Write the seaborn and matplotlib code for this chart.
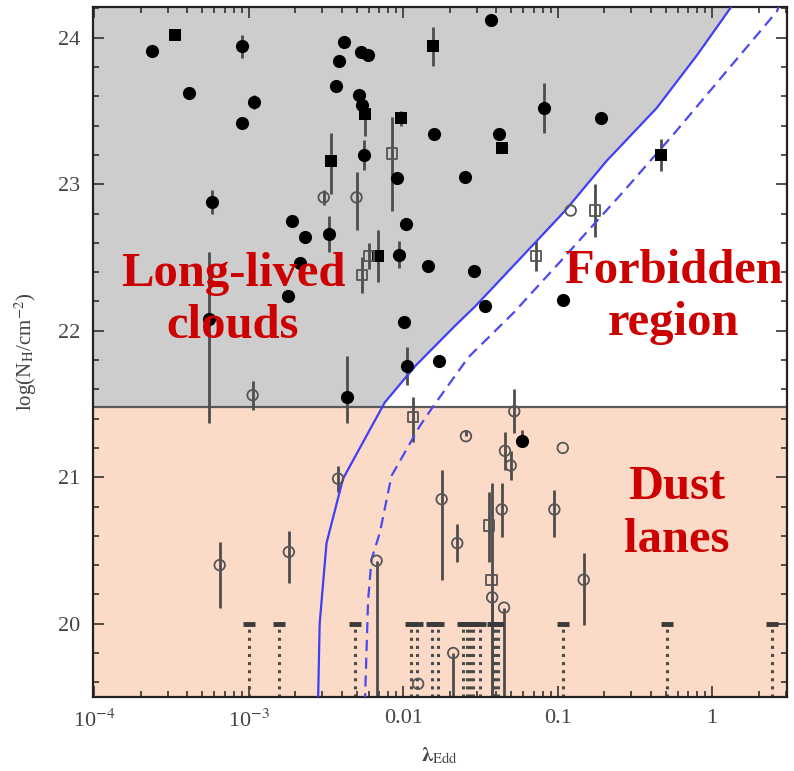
import matplotlib
matplotlib.use('Agg')
import matplotlib.pyplot as plt
from matplotlib.ticker import MultipleLocator, LogLocator, NullFormatter
import numpy as np
import seaborn as sns

# filled circles: lambda_Edd, log NH, error bar low / high
fc_lam = [2.35e-4, 9.0e-4, 4.08e-4, 1.077e-3, 9.0e-4, 5.78e-4, 4.13e-3, 3.85e-3, 5.30e-3,
          5.88e-3, 3.66e-3, 5.16e-3, 5.42e-3, 5.59e-3, 9.06e-3, 0.0370, 0.01573, 0.0415,
          0.082, 0.0250, 0.191, 0.1089, 1.91e-3, 2.31e-3, 3.33e-3, 2.15e-3, 1.80e-3,
          5.56e-4, 0.01041, 9.42e-3, 0.01439, 0.0287, 0.034, 0.0102, 0.01062, 0.01695,
          4.34e-3, 0.0585]
fc_n = [23.91, 23.94, 23.62, 23.56, 23.42, 22.88, 23.97, 23.84, 23.90,
        23.88, 23.67, 23.61, 23.54, 23.20, 23.04, 24.12, 23.34, 23.34,
        23.52, 23.05, 23.45, 22.21, 22.75, 22.64, 22.66, 22.46, 22.24,
        22.08, 22.73, 22.52, 22.44, 22.41, 22.17, 22.06, 21.76, 21.79,
        21.55, 21.25]
fc_lo = [23.91, 23.86, 23.59, 23.51, 23.42, 22.80, 23.97, 23.80, 23.90,
         23.88, 23.67, 23.57, 23.54, 23.10, 23.04, 24.12, 23.32, 23.31,
         23.35, 23.01, 23.42, 22.21, 22.75, 22.61, 22.54, 22.46, 22.24,
         21.37, 22.73, 22.43, 22.44, 22.41, 22.17, 22.03, 21.63, 21.79,
         21.37, 21.25]
fc_hi = [23.91, 24.02, 23.66, 23.61, 23.42, 22.96, 23.97, 23.87, 23.90,
         23.88, 23.67, 23.65, 23.54, 23.30, 23.04, 24.12, 23.36, 23.37,
         23.69, 23.09, 23.47, 22.21, 22.75, 22.67, 22.78, 22.46, 22.24,
         22.54, 22.73, 22.61, 22.44, 22.41, 22.17, 22.08, 21.89, 21.79,
         21.83, 21.32]

# filled squares
fs_lam = [3.33e-4, 5.62e-3, 3.43e-3, 9.7e-3, 0.0155, 0.0437, 0.466, 6.88e-3]
fs_n = [24.02, 23.48, 23.16, 23.45, 23.94, 23.25, 23.20, 22.51]
fs_lo = [24.02, 23.33, 22.93, 23.40, 23.81, 23.22, 23.09, 22.33]
fs_hi = [24.02, 23.52, 23.35, 23.50, 24.07, 23.28, 23.31, 22.69]

# open circles
oc_lam = [3.06e-3, 4.99e-3, 0.1216, 1.06e-3, 0.0524, 3.79e-3, 0.0255, 0.108, 0.0456,
          0.0497, 0.01775, 0.0435, 0.0953, 0.0377, 0.045, 6.73e-3, 0.0224, 0.1476,
          0.0211, 0.0125, 6.49e-4, 1.82e-3]
oc_n = [22.91, 22.91, 22.82, 21.56, 21.45, 20.99, 21.28, 21.20, 21.18,
        21.08, 20.85, 20.78, 20.78, 20.18, 20.11, 20.43, 20.55, 20.30,
        19.80, 19.59, 20.40, 20.49]
oc_lo = [22.86, 22.69, 22.82, 21.46, 21.30, 20.90, 21.28, 21.20, 21.05,
         20.98, 20.30, 20.59, 20.59, 19.45, 19.45, 19.45, 20.42, 19.99,
         19.45, 19.59, 20.11, 20.28]
oc_hi = [22.96, 23.08, 22.82, 21.66, 21.60, 21.08, 21.32, 21.20, 21.31,
         21.18, 21.05, 20.96, 20.91, 20.18, 20.11, 20.43, 20.68, 20.48,
         19.80, 19.59, 20.56, 20.63]

# open squares
os_lam = [8.5e-3, 0.1745, 6.0e-3, 5.42e-3, 0.0728, 0.01164, 0.036, 0.0374]
os_n = [23.21, 22.82, 22.51, 22.38, 22.51, 21.41, 20.67, 20.30]
os_lo = [22.82, 22.64, 22.42, 22.26, 22.41, 21.24, 20.42, 19.45]
os_hi = [23.46, 23.00, 22.60, 22.50, 22.61, 21.55, 20.90, 20.96]

# upper limits at log NH = 20
ul_lam = [1.00e-3, 1.57e-3, 4.89e-3, 0.01132, 0.01236, 0.01535, 0.01686, 0.02449,
          0.02576, 0.02706, 0.02843, 0.03141, 0.03830, 0.03960, 0.04128, 0.1088,
          0.509, 2.44]
ul_n = 20.0

# effective Eddington limit curves
solid_lam = [0.00281, 0.00288, 0.00319, 0.00408, 0.0076, 0.0120, 0.0215, 0.0295,
             0.0714, 0.112, 0.208, 0.438, 0.798, 1.31, 1.45]
solid_n = [19.45, 20.0, 20.55, 20.99, 21.51, 21.76, 22.03, 22.17,
           22.60, 22.82, 23.16, 23.52, 23.88, 24.20, 24.30]
dash_lam = [0.00565, 0.00593, 0.00624, 0.00706, 0.00841, 0.01052, 0.01283, 0.01556,
            0.0265, 0.0516, 0.1037, 0.2669, 0.5623, 2.63, 2.9]
dash_n = [19.45, 20.16, 20.44, 20.62, 21.01, 21.19, 21.35, 21.48,
          21.82, 22.12, 22.47, 22.95, 23.34, 24.18, 24.30]

dust_n = 21.48

sns.set_style('ticks')
plt.rcParams['font.family'] = ['Liberation Serif', 'DejaVu Serif']
plt.rcParams['mathtext.fontset'] = 'stix'

fig = plt.figure(figsize=(7.94, 7.71), dpi=100)
ax = fig.add_axes([0.117, 0.096, 0.874, 0.895])
ax.set_xscale('log')
xmin, xmax = 9.8e-5, 3.05
ymin, ymax = 19.5, 24.21

# shaded regions
ax.axhspan(ymin, dust_n, color='#fcdac8', zorder=0, lw=0)
yy = np.linspace(dust_n, ymax, 300)
xx = 10 ** np.interp(yy, solid_n, np.log10(solid_lam))
ax.fill_betweenx(yy, xmin, xx, color='#cdcdcd', zorder=0, lw=0)
ax.axhline(dust_n, color='#5a5a5a', lw=1.6, zorder=1)

# curves
sns.lineplot(x=solid_lam, y=solid_n, sort=False, estimator=None, color='#3f3ff5',
             lw=1.6, ax=ax, zorder=3)
sns.lineplot(x=dash_lam, y=dash_n, sort=False, estimator=None, color='#4a4af0',
             lw=1.6, ax=ax, zorder=3, dashes=False).lines[-1].set_dashes((5, 3))

# upper limits
ax.vlines(ul_lam, ymin, ul_n, colors='#4a4a4a', linestyles=':', lw=2.2, zorder=2)
ax.plot(ul_lam, [ul_n] * len(ul_lam), ls='none', marker='_', ms=9, mew=3.5,
        color='#3a3a3a', zorder=4)

# error bars
err = '#4d4d4d'
for lam, lo, hi in [(fc_lam, fc_lo, fc_hi), (fs_lam, fs_lo, fs_hi),
                    (oc_lam, oc_lo, oc_hi), (os_lam, os_lo, os_hi)]:
    ax.vlines(lam, lo, hi, colors=err, lw=2.0, zorder=2)

sns.scatterplot(x=fc_lam, y=fc_n, marker='o', s=90, color='black', linewidth=0,
                ax=ax, zorder=5)
sns.scatterplot(x=fs_lam, y=fs_n, marker='s', s=72, color='black', linewidth=0,
                ax=ax, zorder=5)
sns.scatterplot(x=oc_lam, y=oc_n, marker='o', s=58, facecolor='none',
                edgecolor='#555555', linewidth=1.3, ax=ax, zorder=5)
sns.scatterplot(x=os_lam, y=os_n, marker='s', s=55, facecolor='none',
                edgecolor='#555555', linewidth=1.3, ax=ax, zorder=5)

ax.set_xlim(xmin, xmax)
ax.set_ylim(ymin, ymax)

# region labels
lab = dict(transform=ax.transAxes, ha='center', va='center', fontsize=35,
           fontweight='bold', color='#cc0000', linespacing=1.25, zorder=6)
ax.text(0.202, 0.575, 'Long-lived\nclouds', **lab)
ax.text(0.837, 0.580, 'Forbidden\nregion', **lab)
ax.text(0.841, 0.266, 'Dust\nlanes', **lab)

# axes and ticks
ax.set_xticks([1e-4, 1e-3, 1e-2, 1e-1, 1])
ax.set_xticklabels([r'10$^{-4}$', r'10$^{-3}$', '0.01', '0.1', '1'])
ax.xaxis.set_minor_locator(LogLocator(base=10, subs=np.arange(2, 10)))
ax.xaxis.set_minor_formatter(NullFormatter())
ax.yaxis.set_major_locator(MultipleLocator(1))
ax.yaxis.set_minor_locator(MultipleLocator(0.2))
ax.tick_params(which='both', direction='in', top=True, right=True, width=1.2,
               colors='#333333', labelcolor='#444444')
ax.tick_params(which='major', length=8, labelsize=16, pad=9)
ax.tick_params(which='minor', length=4)
for s in ax.spines.values():
    s.set_linewidth(1.6)
    s.set_color('#222222')

ax.set_xlabel(r'$\mathbf{\lambda}_{\rm Edd}$', fontsize=15, color='#444444', labelpad=10)
ax.set_ylabel(r'log(N$_{\rm H}$/cm$^{-2}$)', fontsize=15, color='#444444', labelpad=14)

fig.savefig('out.png', dpi=100)
